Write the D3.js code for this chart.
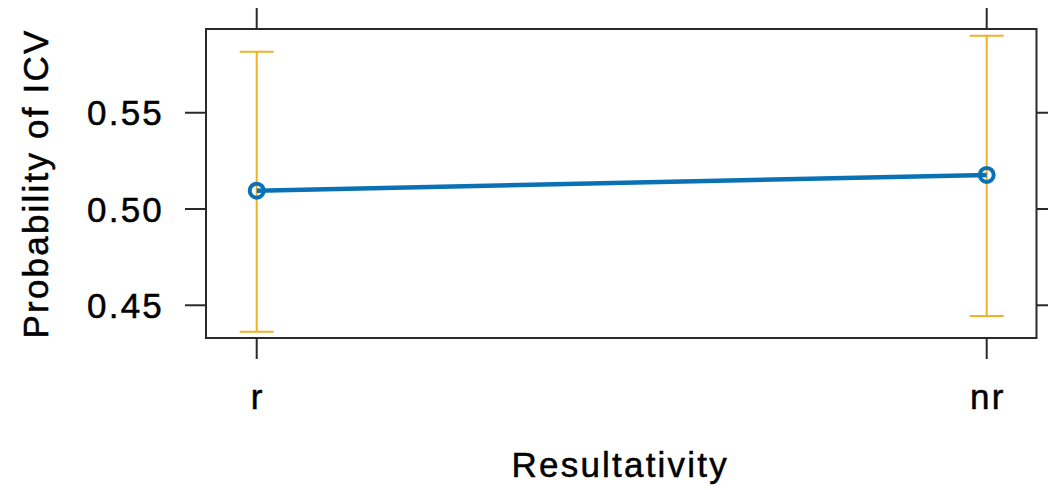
<!DOCTYPE html>
<html>
<head>
<meta charset="utf-8">
<script src="https://cdn.jsdelivr.net/npm/d3@7"></script>
<style>
  html, body { margin: 0; padding: 0; background: #fff; }
  svg text { font-family: "Liberation Sans", Arial, sans-serif; fill: #000; stroke: #000; stroke-width: 0.5px; }
</style>
</head>
<body>
<svg id="chart" width="1048" height="490"></svg>
<script>
const categories = ["r", "nr"];
const fitValues = [0.5095, 0.5177];
const lowerValues = [0.4363, 0.4444];
const upperValues = [0.5817, 0.5900];
const yTicks = [0.45, 0.50, 0.55];
const yTickLabels = ["0.45", "0.50", "0.55"];
const xTitle = "Resultativity";
const yTitle = "Probability of ICV";

const data = categories.map((c, i) => ({ c, fit: fitValues[i], lo: lowerValues[i], hi: upperValues[i] }));

const svg = d3.select("#chart");
const panel = { left: 206, right: 1036.5, top: 29, bottom: 338 };

const x = d3.scalePoint().domain(categories).range([256.7, 986.7]).padding(0);
const y = d3.scaleLinear().domain([0.433, 0.5935]).range([panel.bottom, panel.top]);

const fontSize = 35, ls = 2.2;
const tickCol = "#2a2a2a";
const sw = 2;

// panel box
svg.append("rect")
  .attr("x", panel.left).attr("y", panel.top)
  .attr("width", panel.right - panel.left).attr("height", panel.bottom - panel.top)
  .attr("fill", "none").attr("stroke", tickCol).attr("stroke-width", sw);

// x ticks (bottom and top)
categories.forEach(c => {
  svg.append("line").attr("x1", x(c)).attr("x2", x(c))
    .attr("y1", panel.bottom).attr("y2", panel.bottom + 21)
    .attr("stroke", tickCol).attr("stroke-width", sw);
  svg.append("line").attr("x1", x(c)).attr("x2", x(c))
    .attr("y1", panel.top).attr("y2", panel.top - 21)
    .attr("stroke", tickCol).attr("stroke-width", sw);
  svg.append("text").attr("x", x(c) + ls / 2).attr("y", 409)
    .attr("text-anchor", "middle").attr("font-size", fontSize)
    .attr("letter-spacing", ls).text(c);
});

// y ticks (left and right)
yTicks.forEach((t, i) => {
  svg.append("line").attr("x1", panel.left - 21).attr("x2", panel.left)
    .attr("y1", y(t)).attr("y2", y(t))
    .attr("stroke", tickCol).attr("stroke-width", sw);
  svg.append("line").attr("x1", panel.right).attr("x2", panel.right + 21)
    .attr("y1", y(t)).attr("y2", y(t))
    .attr("stroke", tickCol).attr("stroke-width", sw);
  svg.append("text").attr("x", 164).attr("y", y(t) + 12.5)
    .attr("text-anchor", "end").attr("font-size", fontSize)
    .attr("letter-spacing", ls).text(yTickLabels[i]);
});

// axis titles
svg.append("text").attr("x", (panel.left + panel.right) / 2 - 1).attr("y", 477)
  .attr("text-anchor", "middle").attr("font-size", fontSize)
  .attr("letter-spacing", ls).text(xTitle);
svg.append("text")
  .attr("transform", `translate(48,${(panel.top + panel.bottom) / 2}) rotate(-90)`)
  .attr("text-anchor", "middle").attr("font-size", fontSize)
  .attr("letter-spacing", ls).text(yTitle);

// error bars
const orange = "#F2B124";
const cap = 17;
const eb = svg.append("g").attr("stroke", orange).attr("stroke-width", 2).attr("fill", "none");
data.forEach(d => {
  eb.append("line").attr("x1", x(d.c)).attr("x2", x(d.c)).attr("y1", y(d.lo)).attr("y2", y(d.hi));
  eb.append("line").attr("x1", x(d.c) - cap).attr("x2", x(d.c) + cap).attr("y1", y(d.lo)).attr("y2", y(d.lo));
  eb.append("line").attr("x1", x(d.c) - cap).attr("x2", x(d.c) + cap).attr("y1", y(d.hi)).attr("y2", y(d.hi));
});

// fitted line
const blue = "#0A72B4";
svg.append("path").datum(data)
  .attr("d", d3.line().x(d => x(d.c)).y(d => y(d.fit)))
  .attr("fill", "none").attr("stroke", blue).attr("stroke-width", 4.5);

// points
svg.selectAll("circle.pt").data(data).enter().append("circle")
  .attr("class", "pt")
  .attr("cx", d => x(d.c)).attr("cy", d => y(d.fit)).attr("r", 7)
  .attr("fill", "none").attr("stroke", blue).attr("stroke-width", 4);
</script>
</body>
</html>
